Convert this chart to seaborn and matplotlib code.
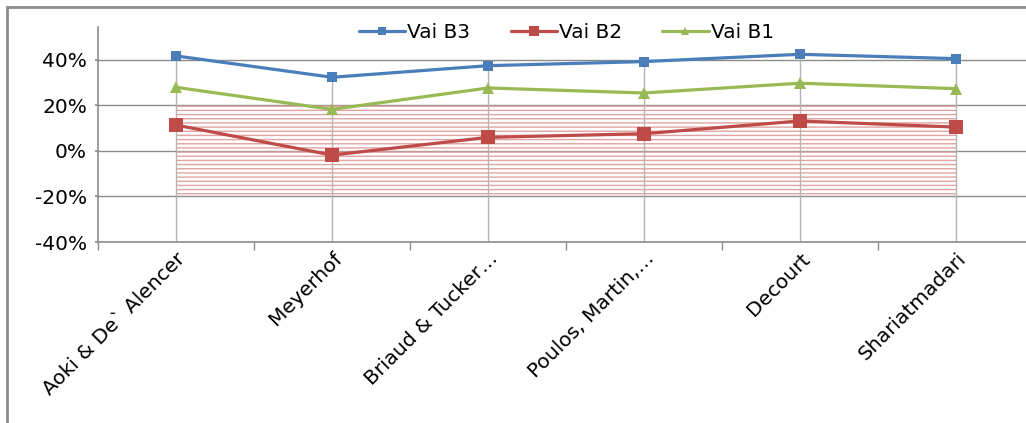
import matplotlib
matplotlib.use("Agg")
import matplotlib.pyplot as plt
import matplotlib.patches as mpatches
from matplotlib.ticker import FixedLocator, FuncFormatter
import seaborn as sns
import pandas as pd
import numpy as np

# Data
methods = ["Aoki & De` Alencer", "Meyerhof", "Briaud & Tucker…",
           "Poulos, Martin,…", "Decourt", "Shariatmadari"]
vai_b3 = [0.418, 0.324, 0.375, 0.393, 0.425, 0.406]
vai_b2 = [0.114, -0.018, 0.060, 0.076, 0.132, 0.105]
vai_b1 = [0.280, 0.183, 0.277, 0.255, 0.298, 0.274]
band_low, band_high = -0.20, 0.20
y_ticks = [-0.4, -0.2, 0.0, 0.2, 0.4]

sns.set_theme(style="white")
plt.rcParams["font.family"] = ["DejaVu Sans"]
plt.rcParams["hatch.linewidth"] = 1.0
plt.rcParams["text.color"] = "black"
plt.rcParams["xtick.color"] = "black"
plt.rcParams["ytick.color"] = "black"

fig = plt.figure(figsize=(10.26, 4.23), dpi=100)
ax = fig.add_axes([98 / 1026, 1 - 242 / 423, (1034 - 98) / 1026, (242 - 27) / 423])

x = np.arange(len(methods))
df = pd.DataFrame({"x": x, "b3": vai_b3, "b2": vai_b2, "b1": vai_b1})

# Hatched acceptance band between -20% and 20%
ax.fill_between([x[0], x[-1]], band_low, band_high, facecolor="none",
                edgecolor="#e0a3a1", hatch="----", linewidth=0, zorder=1)

# Drop lines from the highest series to the category axis
ax.vlines(x, -0.4, df["b3"], color="#b4b4b4", lw=1, zorder=1.5)

blue, red, green = "#4a7ebb", "#be4b48", "#98b954"
sns.lineplot(data=df, x="x", y="b3", ax=ax, color=blue, lw=2.3, marker="s",
             markersize=7, markeredgewidth=0, label="Vai B3", zorder=4)
sns.lineplot(data=df, x="x", y="b2", ax=ax, color=red, lw=2.3, marker="s",
             markersize=9.5, markeredgewidth=0, label="Vai B2", zorder=3)
sns.lineplot(data=df, x="x", y="b1", ax=ax, color=green, lw=2.3, marker="^",
             markersize=8, markeredgewidth=0, label="Vai B1", zorder=3)

ax.set_xlim(-0.5, len(methods) - 0.5)
ax.set_ylim(-0.4, 0.545)
ax.yaxis.set_major_locator(FixedLocator(y_ticks))
ax.yaxis.set_major_formatter(FuncFormatter(lambda v, _: f"{v * 100:.0f}%".replace("−", "-")))
ax.grid(axis="y", color="#8c8c8c", lw=1)
ax.grid(axis="x", visible=False)
ax.set_axisbelow(True)

ax.set_xticks(x)
ax.set_xticklabels(methods, rotation=45, ha="right", rotation_mode="anchor",
                   fontsize=14.5)
ax.set_xticks(np.arange(-0.5, len(methods)), minor=True)
ax.tick_params(axis="x", which="major", length=0, pad=5)
ax.tick_params(axis="x", which="minor", length=6, color="#8c8c8c", width=1,
               bottom=True)
ax.tick_params(axis="y", labelsize=14.5, length=2, color="#8c8c8c", left=True,
               pad=6)
ax.set_xlabel("")
ax.set_ylabel("")

for side in ("top", "right"):
    ax.spines[side].set_visible(False)
for side in ("left", "bottom"):
    ax.spines[side].set_color("#8c8c8c")
    ax.spines[side].set_linewidth(1.2)

handles, labels = ax.get_legend_handles_labels()
ax.get_legend().remove()
fig.legend(handles, labels, loc="center", bbox_to_anchor=(0.552, 1 - 33 / 423),
           ncol=3, frameon=False, fontsize=14.5, handlelength=2.3,
           columnspacing=2.0, handletextpad=0.1, markerscale=0.8)

# Outer chart frame
frame = mpatches.Rectangle((7 / 1026, -0.2), 1.2, 1.2 - 7 / 423,
                           transform=fig.transFigure, fill=False,
                           edgecolor="#8c8c8c", lw=2, clip_on=False)
fig.patches.append(frame)

fig.savefig("out.png", dpi=100)
